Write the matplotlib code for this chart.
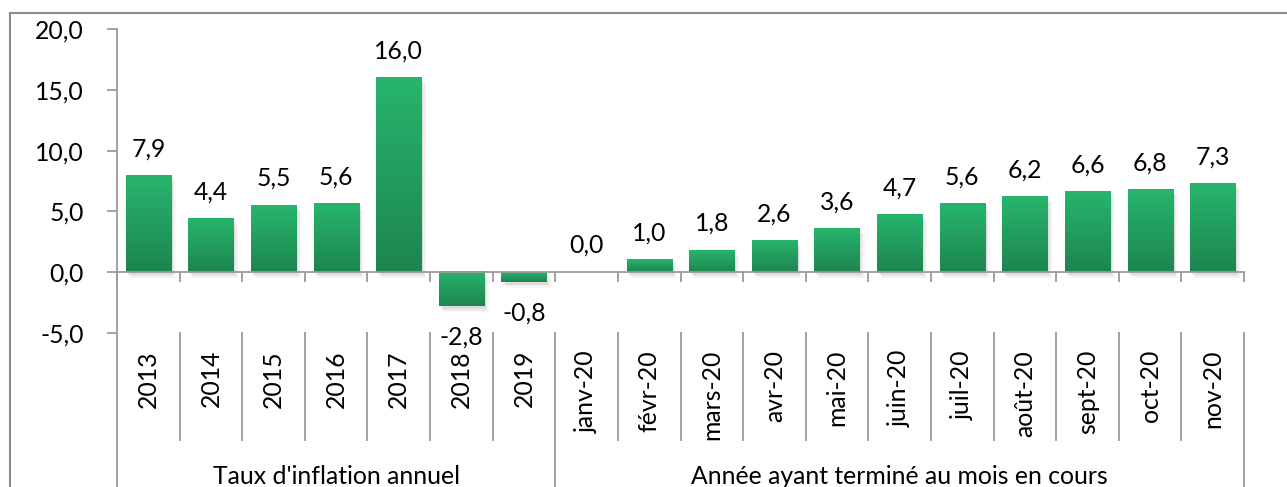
import matplotlib
matplotlib.use("Agg")
import matplotlib.pyplot as plt
import numpy as np
from matplotlib.patches import Rectangle
from matplotlib.transforms import blended_transform_factory
from matplotlib.colors import LinearSegmentedColormap

plt.rcParams['font.family'] = ['Lato', 'DejaVu Sans']

categories = ["2013", "2014", "2015", "2016", "2017", "2018", "2019",
              "janv-20", "févr-20", "mars-20", "avr-20", "mai-20", "juin-20",
              "juil-20", "août-20", "sept-20", "oct-20", "nov-20"]
values = [7.9, 4.4, 5.5, 5.6, 16.0, -2.8, -0.8,
          0.0, 1.0, 1.8, 2.6, 3.6, 4.7, 5.6, 6.2, 6.6, 6.8, 7.3]
groups = ["Taux d'inflation annuel", "Année ayant terminé au mois en cours"]
group_sizes = [7, 11]
yticks = [-5, 0, 5, 10, 15, 20]

W, H = 1287, 487
fig = plt.figure(figsize=(W / 100, H / 100), dpi=100)
ax = fig.add_axes([117 / W, 1 - 333 / H, (1244 - 117) / W, (333 - 29) / H])

n = len(categories)
x = np.arange(n)
ax.set_xlim(-0.5, n - 0.5)
ax.set_ylim(-5, 20)

grey = '#9a9a9a'
FS = 17.8
txtc = '#000000'
cmap = LinearSegmentedColormap.from_list('g', ['#1d8550', '#27b56d'])
grad = np.linspace(0, 1, 100).reshape(-1, 1)
bw = 0.72

for xi, v in zip(x, values):
    lo, hi = min(0, v), max(0, v)
    if hi - lo > 0:
        # soft shadow
        for k, a in enumerate([0.10, 0.07, 0.04]):
            dx = 0.03 + 0.025 * k
            dy = 0.25 + 0.12 * k
            ax.add_patch(Rectangle((xi - bw / 2 + dx, lo - dy), bw, hi - lo,
                                   facecolor='#555555', alpha=a, lw=0, zorder=1))
        ax.imshow(grad, extent=[xi - bw / 2, xi + bw / 2, lo, hi], origin='lower',
                  cmap=cmap, aspect='auto', zorder=2, interpolation='bilinear')
    lab = f"{v:.1f}".replace('.', ',')
    if v >= 0:
        ax.annotate(lab, (xi, v), xytext=(0, 11), textcoords='offset points',
                    ha='center', va='bottom', fontsize=FS, color=txtc)
    else:
        ax.annotate(lab, (xi, v), xytext=(0, -14), textcoords='offset points',
                    ha='center', va='top', fontsize=FS, color=txtc)

ax.set_xlim(-0.5, n - 0.5)
ax.set_ylim(-5, 20)

for s in ['top', 'right']:
    ax.spines[s].set_visible(False)
ax.spines['bottom'].set_position(('data', 0))
ax.spines['bottom'].set_color(grey)
ax.spines['bottom'].set_linewidth(1.3)
ax.spines['bottom'].set_zorder(3)
ax.spines['left'].set_color(grey)
ax.spines['left'].set_linewidth(1.3)

ax.set_yticks(yticks)
ax.set_yticklabels([f"{t:.1f}".replace('.', ',') for t in yticks], fontsize=FS,
                   color=txtc)
ax.tick_params(axis='y', direction='out', length=7, width=1.3, color=grey, pad=17)
ax.set_xticks(np.arange(-0.5, n, 1.0))
ax.set_xticklabels([])
ax.tick_params(axis='x', direction='out', length=7, width=1.3, color=grey)

trans = blended_transform_factory(ax.transData, ax.transAxes)
axh = 333 - 29
y_sep_end = -(440 - 333) / axh
bounds = np.cumsum([0] + group_sizes) - 0.5
for b in np.arange(-0.5, n, 1.0):
    full = any(abs(b - gb) < 1e-6 for gb in bounds)
    ax.plot([b, b], [0, -0.7 if full else y_sep_end], transform=trans,
            color=grey, lw=1.3, clip_on=False)

y_lab = -(350 - 333) / axh
for xi, c in zip(x, categories):
    ax.text(xi, y_lab, c, rotation=90, ha='center', va='top', fontsize=FS,
            transform=trans, color=txtc)

y_grp = -(476 - 333) / axh
for i, g in enumerate(groups):
    cx = (bounds[i] + bounds[i + 1]) / 2
    ax.text(cx, y_grp, g, ha='center', va='center', fontsize=FS,
            transform=trans, color=txtc)

fig.patches.append(Rectangle((10 / W, -0.2), 1.0, (1 - 13 / H) + 0.2,
                             transform=fig.transFigure, fill=False,
                             edgecolor='#8c8c8c', lw=1.5))

fig.savefig('out.png', dpi=100)
